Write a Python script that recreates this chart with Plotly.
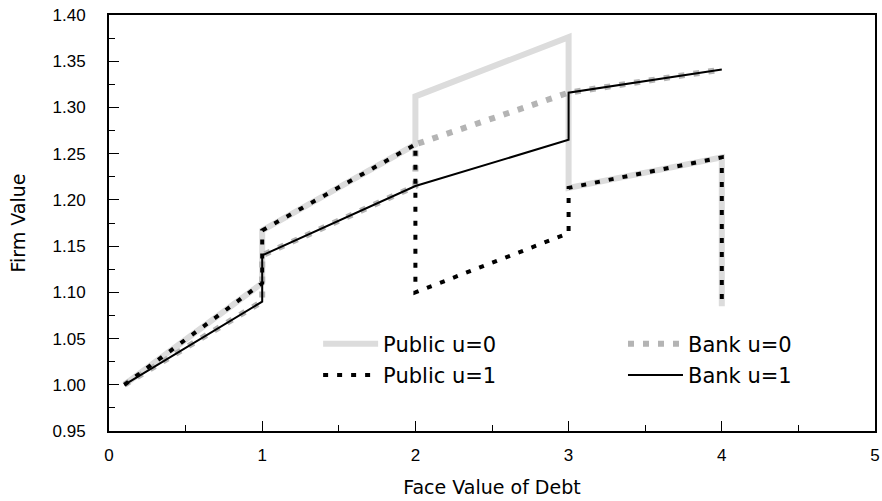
import plotly.graph_objects as go

# Face value of debt (x) and firm value (y) for each series
public_u0_x = [0.1, 1, 1, 2, 2, 3, 3, 4, 4]
public_u0_y = [1.000, 1.110, 1.167, 1.260, 1.312, 1.376, 1.213, 1.246, 1.085]

bank_u0_x = [0.1, 1, 1, 2, 2, 3, 4]
bank_u0_y = [1.000, 1.090, 1.140, 1.215, 1.260, 1.316, 1.341]

public_u1_x = [0.1, 1, 1, 2, 2, 3, 3, 4, 4]
public_u1_y = [1.000, 1.110, 1.167, 1.260, 1.100, 1.164, 1.213, 1.246, 1.085]

bank_u1_x = [0.1, 1, 1, 2, 3, 3, 4]
bank_u1_y = [1.000, 1.090, 1.140, 1.215, 1.265, 1.316, 1.341]

x_ticks = [0, 1, 2, 3, 4, 5]
y_ticks = [0.95, 1.00, 1.05, 1.10, 1.15, 1.20, 1.25, 1.30, 1.35, 1.40]

fig = go.Figure()
fig.add_trace(go.Scatter(x=public_u0_x, y=public_u0_y, mode="lines", name="Public u=0",
                         line=dict(color="#dcdcdc", width=6), legend="legend"))
fig.add_trace(go.Scatter(x=bank_u0_x, y=bank_u0_y, mode="lines", name="Bank u=0",
                         line=dict(color="#b4b4b4", width=6, dash="6px,9px"), legend="legend2"))
fig.add_trace(go.Scatter(x=public_u1_x, y=public_u1_y, mode="lines", name="Public u=1",
                         line=dict(color="#000000", width=4, dash="5px,9px"), legend="legend3"))
fig.add_trace(go.Scatter(x=bank_u1_x, y=bank_u1_y, mode="lines", name="Bank u=1",
                         line=dict(color="#000000", width=2), legend="legend4"))

leg_font = dict(family="DejaVu Sans", size=21, color="#000000")
leg_common = dict(bgcolor="rgba(0,0,0,0)", font=leg_font, xanchor="left", yanchor="middle",
                  borderwidth=0, itemwidth=55)

fig.update_layout(
    width=882, height=501,
    margin=dict(l=109, r=7, t=15, b=70, autoexpand=False),
    plot_bgcolor="white", paper_bgcolor="white",
    font=dict(family="Liberation Sans", size=16, color="#000000"),
    showlegend=True,
    legend=dict(x=0.273, y=0.209, **leg_common),
    legend2=dict(x=0.671, y=0.209, **leg_common),
    legend3=dict(x=0.273, y=0.134, **leg_common),
    legend4=dict(x=0.671, y=0.134, **leg_common),
    xaxis=dict(
        range=[0, 5], tickvals=x_ticks, ticktext=[str(v) for v in x_ticks],
        showgrid=False, zeroline=False, automargin=False,
        showline=True, linecolor="black", linewidth=2, mirror=True,
        ticks="inside", ticklen=10, tickwidth=1, tickcolor="black",
        minor=dict(dtick=0.5, ticks="inside", ticklen=6, tickwidth=1, tickcolor="black", showgrid=False),
        title=dict(text="Face Value of Debt", font=dict(family="DejaVu Sans", size=19), standoff=16),
        tickfont=dict(family="Liberation Sans", size=17),
        ticklabelstandoff=8, ticklabeloverflow="allow",
    ),
    yaxis=dict(
        range=[0.95, 1.40], tickvals=y_ticks, ticktext=[f"{v:.2f}" for v in y_ticks],
        showgrid=False, zeroline=False, automargin=False,
        showline=True, linecolor="black", linewidth=2, mirror=True,
        ticks="inside", ticklen=10, tickwidth=1, tickcolor="black",
        minor=dict(dtick=0.025, ticks="inside", ticklen=6, tickwidth=1, tickcolor="black", showgrid=False),
        title=dict(text="Firm Value", font=dict(family="DejaVu Sans", size=19), standoff=22),
        tickfont=dict(family="Liberation Sans", size=17),
        ticklabelstandoff=18, ticklabeloverflow="allow",
    ),
)

# remove the default 8px page margin so the figure fills the window exactly
fig.write_html("out.html", config={"displayModeBar": False},
               post_script="document.body.style.margin='0';")
